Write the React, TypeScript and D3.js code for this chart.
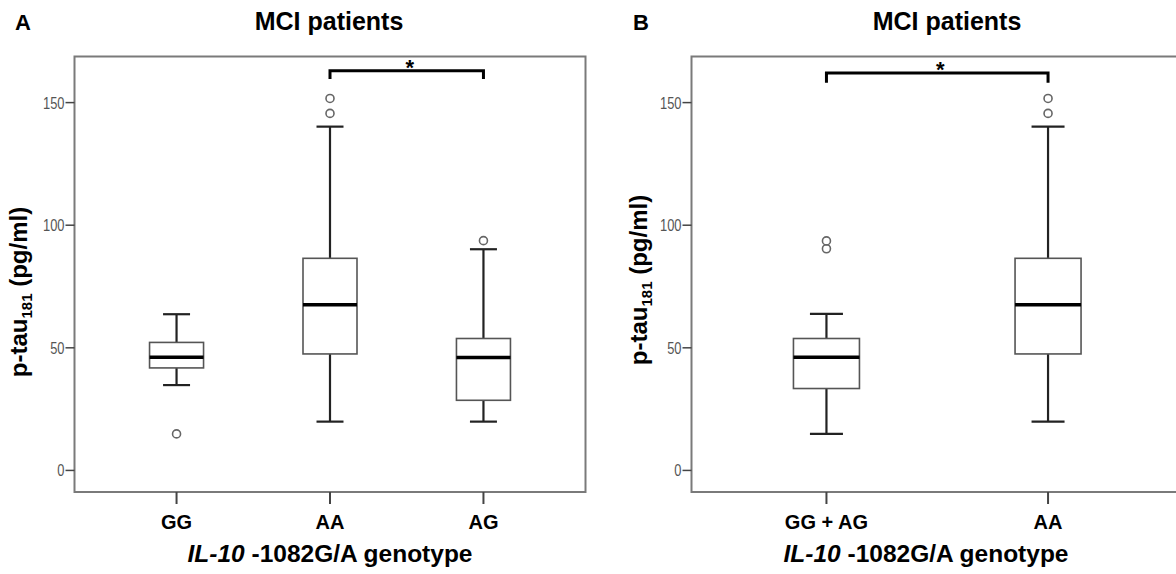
import * as d3 from "d3";

// panel A: three genotypes
const genotypesA = ["GG", "AA", "AG"];
const lowA = [34.8, 19.9, 19.9];
const q1A = [41.8, 47.5, 28.6];
const medA = [46.2, 67.6, 46.0];
const q3A = [52.2, 86.5, 53.8];
const highA = [63.7, 140.2, 90.2];
const outliersA = [[14.9], [145.6, 151.7], [93.7]];
const bracketA = { from: "AA", to: "AG", top: 163, bottom: 159.6 };

// panel B: GG + AG pooled vs AA
const genotypesB = ["GG + AG", "AA"];
const lowB = [14.9, 19.9];
const q1B = [33.4, 47.5];
const medB = [46.2, 67.6];
const q3B = [53.8, 86.5];
const highB = [63.8, 140.2];
const outliersB = [[90.4, 93.6], [145.6, 151.7]];
const bracketB = { from: "GG + AG", to: "AA", top: 162.1, bottom: 158.1 };

const yTicks = [0, 50, 100, 150];

const W = 1176, H = 574;
const frameTop = 56.5, frameBottom = 492;

const y = d3.scaleLinear().domain([-8.8, 168.8]).range([frameBottom, frameTop]);

const boldFont = "'Liberation Sans', Arial, Helvetica, sans-serif";

type PanelProps = {
  letter: string;
  letterX: number;
  titleX: number;
  left: number;
  right: number;
  padding: number;
  boxW: number;
  ylabX: number;
  ylabY: number;
  xtitleX: number;
  cats: string[];
  low: number[];
  q1: number[];
  med: number[];
  q3: number[];
  high: number[];
  outliers: number[][];
  bracket: { from: string; to: string; top: number; bottom: number };
};

function Panel(p: PanelProps) {
  const x = d3.scalePoint<string>().domain(p.cats).range([p.left, p.right]).padding(p.padding);
  const capW = p.boxW / 2;
  const bx1 = x(p.bracket.from) as number;
  const bx2 = x(p.bracket.to) as number;

  return (
    <g>
      <text x={p.letterX} y={29.5} textAnchor="middle" fontFamily={boldFont} fontWeight="bold" fontSize={22}>{p.letter}</text>
      <text x={p.titleX} y={30} textAnchor="middle" fontFamily={boldFont} fontWeight="bold" fontSize={25}>MCI patients</text>

      {/* frame */}
      <rect x={p.left} y={frameTop} width={p.right - p.left} height={frameBottom - frameTop}
        fill="none" stroke="#7a7a7a" strokeWidth={2} />

      {/* y axis ticks, labels squeezed like a narrow font */}
      {yTicks.map((t) => (
        <g key={t}>
          <line x1={p.left - 9} x2={p.left} y1={y(t)} y2={y(t)} stroke="#444" strokeWidth={1.5} />
          <text transform={`translate(${p.left - 10},${y(t)}) scale(0.78,1)`} dy="0.36em" textAnchor="end"
            fontFamily={boldFont} fontSize={16.5} fill="#555">{t}</text>
        </g>
      ))}

      {/* x axis ticks + labels */}
      {p.cats.map((c) => (
        <g key={c}>
          <line x1={x(c)} x2={x(c)} y1={frameBottom} y2={frameBottom + 12} stroke="#444" strokeWidth={2} />
          <text x={x(c)} y={529} textAnchor="middle" fontFamily={boldFont} fontWeight="bold" fontSize={20}>{c}</text>
        </g>
      ))}

      {/* boxes */}
      {p.cats.map((c, i) => {
        const cx = x(c) as number;
        return (
          <g key={"box" + c}>
            <line x1={cx} x2={cx} y1={y(p.high[i])} y2={y(p.q3[i])} stroke="#222" strokeWidth={2.2} />
            <line x1={cx} x2={cx} y1={y(p.q1[i])} y2={y(p.low[i])} stroke="#222" strokeWidth={2.2} />
            <line x1={cx - capW / 2} x2={cx + capW / 2} y1={y(p.high[i])} y2={y(p.high[i])} stroke="#222" strokeWidth={2.2} />
            <line x1={cx - capW / 2} x2={cx + capW / 2} y1={y(p.low[i])} y2={y(p.low[i])} stroke="#222" strokeWidth={2.2} />
            <rect x={cx - p.boxW / 2} y={y(p.q3[i])} width={p.boxW} height={y(p.q1[i]) - y(p.q3[i])}
              fill="#fff" stroke="#555" strokeWidth={1.6} />
            <line x1={cx - p.boxW / 2} x2={cx + p.boxW / 2} y1={y(p.med[i])} y2={y(p.med[i])} stroke="#000" strokeWidth={3.5} />
            {p.outliers[i].map((o, j) => (
              <circle key={j} cx={cx} cy={y(o)} r={4} fill="#fff" stroke="#666" strokeWidth={1.6} />
            ))}
          </g>
        );
      })}

      {/* significance bracket */}
      <path d={`M${bx1},${y(p.bracket.bottom)}V${y(p.bracket.top)}H${bx2}V${y(p.bracket.bottom)}`}
        fill="none" stroke="#000" strokeWidth={3} />
      <text x={(bx1 + bx2) / 2 + 3} y={y(p.bracket.top) + 4} textAnchor="middle" fontFamily={boldFont}
        fontWeight="bold" fontSize={22}>*</text>

      {/* y label */}
      <text transform={`translate(${p.ylabX},${p.ylabY}) rotate(-90)`} textAnchor="middle"
        fontFamily={boldFont} fontWeight="bold" fontSize={24}>
        p-tau<tspan dy={5} fontSize={15}>181</tspan><tspan dy={-5}> (pg/ml)</tspan>
      </text>

      {/* x title */}
      <text x={p.xtitleX} y={562} textAnchor="middle" fontFamily={boldFont} fontWeight="bold" fontSize={24.5}>
        <tspan fontStyle="italic">IL-10</tspan> -1082G/A genotype
      </text>
    </g>
  );
}

export default function App() {
  return (
    <svg width={W} height={H} style={{ position: "absolute", left: 0, top: 0, background: "#fff" }}>
      <rect width={W} height={H} fill="#fff" />
      <Panel letter="A" letterX={23} titleX={329} left={74.5} right={585.5} padding={0.665} boxW={54}
        ylabX={26.5} ylabY={292} xtitleX={330}
        cats={genotypesA} low={lowA} q1={q1A} med={medA} q3={q3A} high={highA} outliers={outliersA} bracket={bracketA} />
      <Panel letter="B" letterX={641} titleX={947} left={691.5} right={1183} padding={0.609} boxW={66}
        ylabX={646.5} ylabY={280} xtitleX={926}
        cats={genotypesB} low={lowB} q1={q1B} med={medB} q3={q3B} high={highB} outliers={outliersB} bracket={bracketB} />
    </svg>
  );
}
